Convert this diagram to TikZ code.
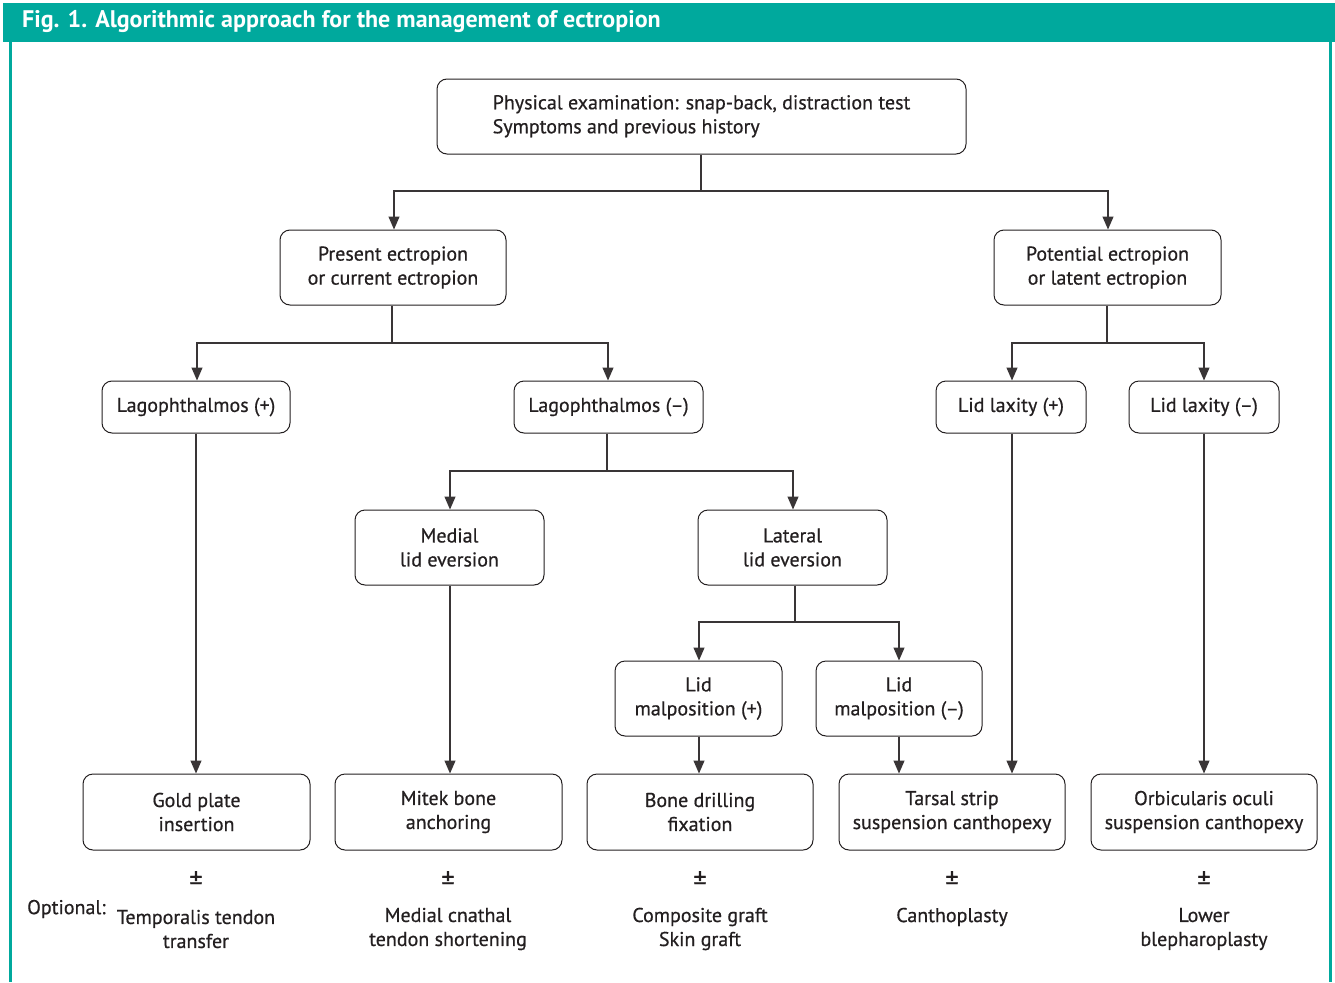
\documentclass[tikz,border=0pt]{standalone}
\usepackage{fontspec}
\setmainfont{PT Sans}[FakeBold=0.6]
\newfontfamily\titlefont{PT Sans Bold}
\usetikzlibrary{arrows.meta}
\definecolor{teal}{RGB}{0,169,157}
\definecolor{ink}{RGB}{35,31,32}
\begin{document}
\begin{tikzpicture}[x=1pt,y=-1pt,
  box/.style={draw=ink,line width=1pt,rounded corners=10pt,inner sep=0pt,align=center,
    font=\fontsize{20}{24}\selectfont,text=ink},
  conn/.style={draw=ink!90,line width=1.2pt},
  arr/.style={conn,-{Triangle[length=13pt,width=11pt]}},
  lab/.style={inner sep=0pt,align=center,font=\fontsize{20}{24}\selectfont,text=ink}]
\useasboundingbox (0,0) rectangle (1335,982);
% header and frame
\fill[teal] (3,3) rectangle (1335,42);
\fill[teal] (8.5,42) rectangle (11.5,982);
\fill[teal] (1328.5,42) rectangle (1331.5,982);
\node[anchor=west,inner sep=0pt,text=white,font=\fontsize{24}{26}\titlefont] (title) at (22,22) {Fig. 1. Algorithmic approach for the management of ectropion};
% boxes
\node[box,minimum width=529pt,minimum height=75pt] (top) at (701.5,116.5)
  {\begin{tabular}{@{}l@{}}Physical examination: snap-back, distraction test\\Symptoms and previous history\end{tabular}};
\node[box,minimum width=226pt,minimum height=75pt] (pres) at (393,267.5) {Present ectropion\\or current ectropion};
\node[box,minimum width=227pt,minimum height=75pt] (pot) at (1107.5,267.5) {Potential ectropion\\or latent ectropion};
\node[box,minimum width=188pt,minimum height=52pt] (lagp) at (196,407) {Lagophthalmos (+)};
\node[box,minimum width=189pt,minimum height=52pt] (lagm) at (608.5,407) {Lagophthalmos (–)};
\node[box,minimum width=150pt,minimum height=52pt] (laxp) at (1011,407) {Lid laxity (+)};
\node[box,minimum width=150pt,minimum height=52pt] (laxm) at (1204,407) {Lid laxity (–)};
\node[box,minimum width=189pt,minimum height=75pt] (med) at (449.5,547.5) {Medial\\lid eversion};
\node[box,minimum width=189pt,minimum height=75pt] (lat) at (792.5,547.5) {Lateral\\lid eversion};
\node[box,minimum width=167pt,minimum height=75pt] (malp) at (698.5,698.5) {Lid\\malposition (+)};
\node[box,minimum width=166pt,minimum height=75pt] (malm) at (899,698.5) {Lid\\malposition (–)};
\node[box,minimum width=227pt,minimum height=76pt] (gold) at (196.5,812) {Gold plate\\insertion};
\node[box,minimum width=227pt,minimum height=76pt] (mitek) at (448.5,812) {Mitek bone\\anchoring};
\node[box,minimum width=226pt,minimum height=76pt] (bone) at (700,812) {Bone drilling\\fixation};
\node[box,minimum width=226pt,minimum height=76pt] (tars) at (952,812) {Tarsal strip\\suspension canthopexy};
\node[box,minimum width=226pt,minimum height=76pt] (orb) at (1204,812) {Orbicularis oculi\\suspension canthopexy};
% connectors
\coordinate (j1) at (701,191);
\draw[conn] (top.south -| j1) -- (j1);
\draw[arr] (j1) -| (pres.north -| 394,0);
\draw[arr] (j1) -| (pot.north -| 1108,0);
\coordinate (j2) at (392,343);
\draw[conn] (pres.south -| j2) -- (j2);
\draw[arr] (j2) -| (lagp.north -| 197,0);
\draw[arr] (j2) -| (lagm.north -| 608,0);
\coordinate (j3) at (1107,343);
\draw[conn] (pot.south -| j3) -- (j3);
\draw[arr] (j3) -| (laxp.north -| 1012,0);
\draw[arr] (j3) -| (laxm.north -| 1204,0);
\coordinate (j4) at (607,471);
\draw[conn] (lagm.south -| j4) -- (j4);
\draw[arr] (j4) -| (med.north -| 450,0);
\draw[arr] (j4) -| (lat.north -| 793,0);
\coordinate (j5) at (795,622);
\draw[conn] (lat.south -| j5) -- (j5);
\draw[arr] (j5) -| (malp.north -| 699,0);
\draw[arr] (j5) -| (malm.north -| 899,0);
\draw[arr] (lagp.south -| 196,0) -- (gold.north -| 196,0);
\draw[arr] (med.south -| 450,0) -- (mitek.north -| 450,0);
\draw[arr] (malp.south -| 699,0) -- (bone.north -| 699,0);
\draw[arr] (malm.south -| 899,0) -- (tars.north -| 899,0);
\draw[arr] (laxp.south -| 1012,0) -- (tars.north -| 1012,0);
\draw[arr] (laxm.south -| 1204,0) -- (orb.north -| 1204,0);
% optional row
\tikzset{pmsty/.style={lab,font=\fontsize{26}{26}\selectfont}}
\node[pmsty] (pm1) at (196,880) {±};
\node[pmsty] (pm2) at (448,880) {±};
\node[pmsty] (pm3) at (700,880) {±};
\node[pmsty] (pm4) at (952,880) {±};
\node[pmsty] (pm5) at (1204,880) {±};
\node[lab,anchor=west] (opt) at (27,909) {Optional:};
\node[lab] (o1) at (196,929) {Temporalis tendon\\transfer};
\node[lab] (o2) at (448,929) {Medial cnathal\\tendon shortening};
\node[lab] (o3) at (700,929) {Composite graft\\Skin graft};
\node[lab] (o4) at (952,917) {Canthoplasty};
\node[lab] (o5) at (1204,929) {Lower\\blepharoplasty};
\end{tikzpicture}
\end{document}
